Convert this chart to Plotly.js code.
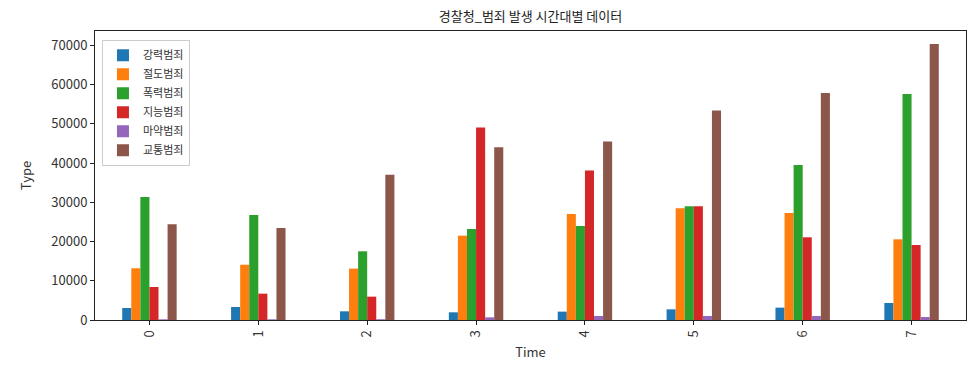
<!DOCTYPE html>
<html>
<head>
<meta charset="utf-8">
<script src="https://cdn.plot.ly/plotly-3.0.1.min.js"></script>
<style>html,body{margin:0;padding:0;background:#fff;}#chart{width:979px;height:376px;}</style>
</head>
<body>
<div id="chart"></div>
<script>
const categories = ["0", "1", "2", "3", "4", "5", "6", "7"];
const seriesNames = ["강력범죄", "절도범죄", "폭력범죄", "지능범죄", "마약범죄", "교통범죄"];
const violent   = [3060, 3320, 2210, 1960, 2130, 2720, 3150, 4340];
const theft     = [13190, 14100, 13100, 21510, 27040, 28490, 27300, 20580];
const assault   = [31380, 26790, 17520, 23210, 23980, 29000, 39540, 57650];
const fraud     = [8420, 6720, 5950, 49060, 38100, 29000, 21090, 19130];
const drugs     = [180, 180, 200, 680, 1020, 1020, 1020, 770];
const traffic   = [24400, 23470, 37070, 44050, 45490, 53400, 57910, 70410];
const seriesValues = [violent, theft, assault, fraud, drugs, traffic];
const colors = ["#1f77b4", "#ff7f0e", "#2ca02c", "#d62728", "#9467bd", "#8c564b"];

const font = "'Noto Sans CJK KR', 'Noto Sans', sans-serif";
const traces = seriesNames.map((n, i) => ({
  type: "bar", name: n, x: categories, y: seriesValues[i],
  marker: {color: colors[i], line: {width: 0}}
}));

const layout = {
  width: 979, height: 376,
  margin: {l: 95, r: 13, t: 31, b: 56},
  paper_bgcolor: "#fff", plot_bgcolor: "#fff",
  font: {family: font, size: 12, color: "#333"},
  barmode: "group", bargap: 0.5, bargroupgap: 0,
  title: {text: "경찰청_범죄 발생 시간대별 데이터", x: 0.5, xref: "paper", y: 0.955, yref: "container", yanchor: "middle", font: {family: font, size: 13, color: "#222"}},
  xaxis: {
    type: "category", range: [-0.5, 7.5], tickangle: -90,
    showline: true, mirror: true, linecolor: "#222", linewidth: 1,
    ticks: "outside", ticklen: 4, tickcolor: "#222", showgrid: false, zeroline: false,
    tickfont: {family: font, size: 13, color: "#333"},
    title: {text: "Time", font: {family: font, size: 13, color: "#333"}, standoff: 11}
  },
  yaxis: {
    range: [0, 73700], tickvals: [0, 10000, 20000, 30000, 40000, 50000, 60000, 70000],
    ticktext: ["0", "10000", "20000", "30000", "40000", "50000", "60000", "70000"],
    showline: true, mirror: true, linecolor: "#222", linewidth: 1,
    ticks: "outside", ticklen: 4, tickcolor: "#222", showgrid: false, zeroline: false,
    tickfont: {family: font, size: 13, color: "#333"},
    title: {text: "Type", font: {family: font, size: 13, color: "#333"}, standoff: 16}
  },
  legend: {
    x: 0.008, y: 0.97, xanchor: "left", yanchor: "top",
    bgcolor: "rgba(255,255,255,0.8)", bordercolor: "#ccc", borderwidth: 1,
    font: {family: font, size: 11, color: "#333"}, tracegroupgap: 0
  },
  showlegend: true
};
Plotly.newPlot("chart", traces, layout, {displayModeBar: false, staticPlot: true});
</script>
</body>
</html>
